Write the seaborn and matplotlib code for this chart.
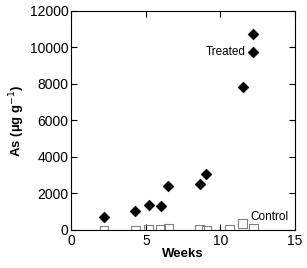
import seaborn as sns
import matplotlib.pyplot as plt
import pandas as pd

weeks = [2.2, 4.3, 5.2, 6.0, 6.5, 8.6, 9.05, 11.5, 12.2, 12.2]
treated = [730, 1020, 1390, 1320, 2430, 2520, 3050, 7820, 9740, 10720]
control_weeks = [2.2, 4.3, 5.2, 6.0, 6.5, 8.6, 9.05, 10.6, 11.5, 12.2]
control = [0, 0, 20, 20, 70, 20, 0, 20, 350, 90]

df_t = pd.DataFrame({"Weeks": weeks, "As": treated})
df_c = pd.DataFrame({"Weeks": control_weeks, "As": control})

sns.set_style("ticks")
plt.rcParams['font.family'] = ['Liberation Sans', 'DejaVu Sans']
plt.rcParams['text.color'] = 'black'
plt.rcParams['axes.labelcolor'] = 'black'

fig, ax = plt.subplots(figsize=(3.07, 2.68), dpi=100)
sns.scatterplot(data=df_t, x="Weeks", y="As", marker="D", color="black",
                s=30, edgecolor="black", ax=ax, zorder=3)
sns.scatterplot(data=df_c, x="Weeks", y="As", marker="s", facecolor="none",
                edgecolor="#808080", linewidth=0.8, s=40, ax=ax, zorder=3)

ax.text(11.7, 9740, "Treated", ha="right", va="center", fontsize=8.5)
ax.text(12.0, 730, "Control", ha="left", va="center", fontsize=8.5)

ax.set_xlim(0, 15)
ax.set_ylim(0, 12000)
ax.set_xticks([0, 5, 10, 15])
ax.set_yticks(range(0, 12001, 2000))
ax.tick_params(direction="in", top=True, right=True, length=4, width=0.8,
               labelsize=10, colors="black")
ax.tick_params(axis="x", pad=3)
ax.tick_params(axis="y", pad=2)
for s in ax.spines.values():
    s.set_linewidth(0.8)
    s.set_color("black")
ax.set_xlabel("Weeks", fontsize=9.5, fontweight="bold", labelpad=0)
ax.set_ylabel("As (µg g$^{-1}$)", fontsize=9.5, fontweight="bold", labelpad=2)

fig.subplots_adjust(left=0.232, right=0.961, top=0.959, bottom=0.142)
fig.savefig("out.png", dpi=100)
